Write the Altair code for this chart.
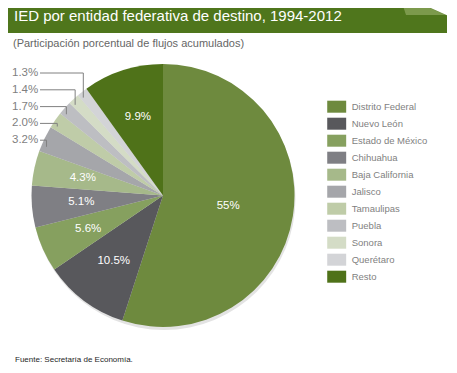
import math
import altair as alt
import pandas as pd

# ---------------- data ----------------
names = ["Distrito Federal", "Nuevo León", "Estado de México", "Chihuahua",
         "Baja California", "Jalisco", "Tamaulipas", "Puebla", "Sonora",
         "Querétaro", "Resto"]
shares = [55.0, 10.5, 5.6, 5.1, 4.3, 3.2, 2.0, 1.7, 1.4, 1.3, 9.9]
labels = ["55%", "10.5%", "5.6%", "5.1%", "4.3%", "3.2%", "2.0%", "1.7%",
          "1.4%", "1.3%", "9.9%"]
colors = ["#6E8A3E", "#58585C", "#86A05F", "#7F7F84", "#A6B98A", "#A5A6AA",
          "#BFCCA8", "#BDBEC2", "#D4DCC6", "#D3D4D7", "#4F7219"]
outside = ["Querétaro", "Sonora", "Puebla", "Tamaulipas", "Jalisco"]  # top to bottom

title_text = "IED por entidad  federativa  de destino, 1994-2012"
subtitle_text = "(Participación porcentual de flujos acumulados)"
source_text = "Fuente: Secretaría de Economía."

# ---------------- layout ----------------
W, H = 441, 357
CX, CY, R = 155, 187.5, 131.5
FONT = "Liberation Sans"
GRAY = "#7f7f7f"

df = pd.DataFrame({
    "name": names,
    "share": shares,
    "idx": list(range(len(names))),
    "inner_main": [l if n == "Distrito Federal" else "" for n, l in zip(names, labels)],
    "inner_other": [l if (n not in outside and n != "Distrito Federal") else ""
                    for n, l in zip(names, labels)],
})

# outside labels + leader lines (anchors derived from slice angles)
total = sum(shares)
cum = 0.0
starts = {}
for n, s in zip(names, shares):
    starts[n] = (cum / total * 360.0, s / total * 360.0)
    cum += s

lab_rows, seg_rows = [], []
for i, n in enumerate(outside):
    ly = 65 + 16.8 * i
    a0, span = starts[n]
    ang = math.radians(a0 + 0.25 * span)
    ax = CX + 0.96 * R * math.sin(ang)
    ay = CY - 0.96 * R * math.cos(ang)
    lab_rows.append({"x": 4, "y": ly, "t": labels[names.index(n)]})
    seg_rows.append({"x": 32, "x2": ax, "y": ly, "y2": ly})
    seg_rows.append({"x": ax, "x2": ax, "y": ly, "y2": ay})
lab_df = pd.DataFrame(lab_rows)
seg_df = pd.DataFrame(seg_rows)

one = pd.DataFrame({"a": [0]})

# ---------------- title band ----------------
band = alt.Chart(one).mark_rect(color="#4F761C").encode(
    x=alt.value(0), x2=alt.value(439), y=alt.value(0), y2=alt.value(25))
fold_df = pd.DataFrame({"x": [395.7, 398, 422.1, 438], "y": [0, 0, 0, 7], "y2": [0, 7, 7, 7]})
fold = alt.Chart(fold_df).mark_area(color="#7C9A4C").encode(
    x=alt.X("x:Q", scale=None, axis=None), y=alt.Y("y:Q", scale=None, axis=None), y2="y2:Q")
cut_df = pd.DataFrame({"x": [422.7, 439.5], "y": [0, 0], "y2": [0, 7.5]})
cut = alt.Chart(cut_df).mark_area(color="white").encode(
    x=alt.X("x:Q", scale=None, axis=None), y=alt.Y("y:Q", scale=None, axis=None), y2="y2:Q")
title = alt.Chart(one).mark_text(text=title_text, font=FONT, fontSize=15, color="white",
                                 align="left", baseline="alphabetic").encode(
    x=alt.value(6), y=alt.value(13))
subtitle = alt.Chart(one).mark_text(text=subtitle_text, font=FONT, fontSize=11, color="#666666",
                                    align="left", baseline="alphabetic").encode(
    x=alt.value(5), y=alt.value(39))
source = alt.Chart(one).mark_text(text=source_text, font=FONT, fontSize=8, color="#262626",
                                  align="left", baseline="middle").encode(
    x=alt.value(7), y=alt.value(351.5))

# ---------------- pie ----------------
shadow = alt.Chart(one).mark_arc(theta=0, theta2=6.2832, outerRadius=R, color="#e3e3e3").encode(
    x=alt.value(CX + 1), y=alt.value(CY + 3))

theta = alt.Theta("share:Q", stack=True)
order = alt.Order("idx:Q")
pie = alt.Chart(df).mark_arc(outerRadius=R, strokeWidth=0).encode(
    theta=theta, order=order,
    x=alt.value(CX), y=alt.value(CY),
    color=alt.Color("name:N", scale=alt.Scale(domain=names, range=colors),
                    legend=alt.Legend(title=None, orient="none", legendX=322.7, legendY=92.7,
                                      symbolType="M-1.58,-1H1.58V1H-1.58Z", symbolSize=144,
                                      symbolStrokeWidth=0, symbolOpacity=1,
                                      labelFont=FONT, labelFontSize=9.5, labelColor=GRAY,
                                      labelOffset=9, rowPadding=5, padding=0, labelLimit=200)),
)
in_main = alt.Chart(df).mark_text(radius=66, font=FONT, fontSize=11.5, color="white").encode(
    theta=theta, order=order, x=alt.value(CX), y=alt.value(CY), text="inner_main:N")
in_other = alt.Chart(df).mark_text(radius=82, font=FONT, fontSize=11.5, color="white").encode(
    theta=theta, order=order, x=alt.value(CX), y=alt.value(CY), text="inner_other:N")

segs = alt.Chart(seg_df).mark_rule(color="#808080", strokeWidth=1).encode(
    x=alt.X("x:Q", scale=None, axis=None), x2="x2:Q",
    y=alt.Y("y:Q", scale=None, axis=None), y2="y2:Q")
out_labels = alt.Chart(lab_df).mark_text(font=FONT, fontSize=11.5, color=GRAY,
                                         align="left", baseline="middle").encode(
    x=alt.X("x:Q", scale=None, axis=None), y=alt.Y("y:Q", scale=None, axis=None), text="t:N")

chart = alt.layer(band, fold, cut, title, subtitle, shadow, pie, in_main, in_other,
                  segs, out_labels, source).properties(
    width=W, height=H, autosize=alt.AutoSizeParams(type="none"), padding=0,
    background="white",
).configure_view(stroke=None)

chart.save("out.html", embed_options={"renderer": "svg", "actions": False})
